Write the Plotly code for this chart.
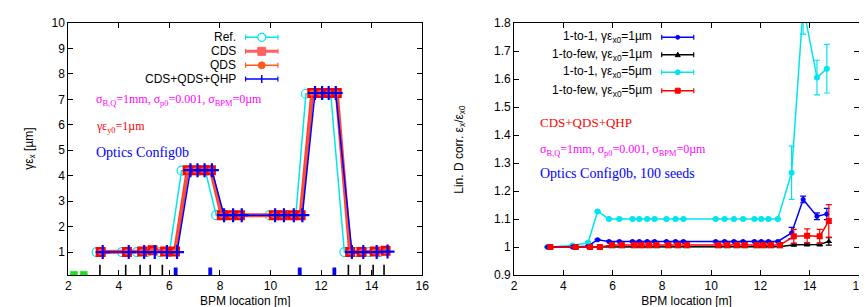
import plotly.graph_objects as go

# ---------------- data: left panel ----------------
ref_x = [3.12, 4.12, 4.71, 5.10, 5.62, 6.00, 6.48, 6.80, 7.12, 7.42, 7.85, 8.20, 8.56,
         9.96, 10.30, 10.65, 11.00, 11.40, 11.72, 12.05, 12.38, 12.92, 13.38, 13.90, 14.32]
ref_y = [1.0, 1.0, 1.0, 1.0, 1.0, 1.0, 4.2, 4.2, 4.2, 4.2, 2.45, 2.45, 2.45,
         2.45, 2.45, 2.45, 2.45, 7.22, 7.22, 7.22, 7.22, 1.0, 1.0, 1.0, 1.0]
cds_x = [3.28, 4.32, 4.92, 5.33, 5.83, 6.22, 6.72, 7.03, 7.35, 7.64, 8.07, 8.43, 8.79,
         10.13, 10.48, 10.87, 11.19, 11.65, 11.97, 12.30, 12.62, 13.15, 13.60, 14.12, 14.55]
cds_y = [1.0, 1.0, 1.02, 1.07, 1.02, 1.02, 4.22, 4.22, 4.22, 4.22, 2.45, 2.45, 2.45,
         2.45, 2.45, 2.45, 2.45, 7.25, 7.25, 7.25, 7.25, 1.0, 1.0, 1.02, 1.05]
qds_y = [1.0, 1.0, 1.01, 1.05, 1.01, 1.01, 4.22, 4.22, 4.22, 4.22, 2.45, 2.45, 2.45,
         2.45, 2.45, 2.45, 2.45, 7.25, 7.25, 7.25, 7.25, 1.0, 1.0, 1.01, 1.03]
comb_x = [3.36, 4.39, 5.00, 5.42, 5.90, 6.30, 6.83, 7.11, 7.39, 7.68, 8.16, 8.52, 8.86,
          10.18, 10.53, 10.92, 11.26, 11.76, 12.04, 12.30, 12.58, 13.22, 13.67, 14.20, 14.63]
comb_y = [1.0, 1.0, 1.0, 1.0, 1.0, 1.0, 4.22, 4.22, 4.22, 4.22, 2.45, 2.45, 2.45,
          2.45, 2.45, 2.45, 2.45, 7.25, 7.25, 7.25, 7.25, 1.0, 1.0, 1.0, 1.02]

# lattice elements drawn at bottom of left panel
quad_pos = [3.25, 4.27, 4.84, 5.24, 5.72, 13.08, 13.54, 14.06, 14.49]
quad_top = 0.5
bend_start = [6.18, 7.55, 11.09, 12.46]
bend_end = [6.31, 7.68, 11.22, 12.59]
bend_top = 0.38
sol_start = [2.08, 2.47]
sol_end = [2.36, 2.75]
sol_top = 0.25
lat_base = 0.1

# ---------------- data: right panel ----------------
x_one = [3.36, 4.37, 5.00, 5.385, 5.85, 6.27, 6.80, 7.08, 7.40, 7.70, 8.18, 8.55, 8.87,
         10.18, 10.54, 10.92, 11.29, 11.75, 12.03, 12.32, 12.70, 13.26, 13.73, 14.29, 14.69]
x_few = [3.47, 4.50, 5.08, 5.48, 5.97, 6.37, 6.88, 7.17, 7.47, 7.78, 8.26, 8.65, 9.01,
         10.29, 10.65, 11.04, 11.36, 11.84, 12.12, 12.42, 12.79, 13.35, 13.89, 14.40, 14.77]
one_1um = [1.0, 1.0, 1.003, 1.026, 1.02, 1.02, 1.02, 1.02, 1.02, 1.02, 1.02, 1.02, 1.02,
           1.02, 1.02, 1.02, 1.02, 1.02, 1.02, 1.02, 1.02, 1.05, 1.17, 1.11, 1.118]
one_1um_err = [0.001] * 21 + [0.02, 0.012, 0.012, 0.02]
few_1um = [1.0, 1.0, 1.0, 1.0, 1.001, 1.001, 1.001, 1.001, 1.001, 1.001, 1.001, 1.001, 1.001,
           1.001, 1.001, 1.001, 1.001, 1.001, 1.001, 1.001, 1.001, 1.008, 1.009, 1.009, 1.02]
few_1um_err = [0.001] * 21 + [0.005, 0.005, 0.005, 0.013]
one_5um = [1.0, 1.005, 1.015, 1.127, 1.10, 1.10, 1.10, 1.10, 1.10, 1.10, 1.10, 1.10, 1.10,
           1.10, 1.10, 1.10, 1.10, 1.10, 1.10, 1.10, 1.10, 1.265, 1.86, 1.605, 1.637]
one_5um_err = [0.002] * 21 + [0.095, 0.1, 0.062, 0.087]
few_5um = [1.0, 1.0, 1.0, 1.0, 1.007, 1.007, 1.007, 1.007, 1.007, 1.007, 1.007, 1.007, 1.007,
           1.007, 1.007, 1.007, 1.007, 1.007, 1.007, 1.007, 1.007, 1.038, 1.04, 1.038, 1.093]
few_5um_err = [0.001] * 21 + [0.025, 0.025, 0.025, 0.058]

x_ticks = [2, 4, 6, 8, 10, 12, 14, 16]
left_y_ticks = [1, 2, 3, 4, 5, 6, 7, 8, 9, 10]
right_y_ticks = [0.9, 1.0, 1.1, 1.2, 1.3, 1.4, 1.5, 1.6, 1.7, 1.8]
right_y_labels = ["0.9", "1", "1.1", "1.2", "1.3", "1.4", "1.5", "1.6", "1.7", "1.8"]

# ---------------- colours ----------------
CYAN = "#00E5EE"
RED = "#FF0000"
CDS_LINE = "#FF4040"
ORANGE = "#FF5A1E"
BLUE = "#0000FF"
MAGENTA = "#FF00FF"

W, H = 867, 307
T, B = 15, 40
PH = H - T - B


def px(x):
    return x / W


def py(y):
    return (H - B - y) / PH


fig = go.Figure()

# lattice markers
lx, ly = [], []
for q in quad_pos:
    lx += [q, q, None]
    ly += [lat_base, quad_top, None]
fig.add_trace(go.Scatter(x=lx, y=ly, mode="lines", line=dict(color="black", width=1.6),
                         showlegend=False, hoverinfo="skip", xaxis="x", yaxis="y"))
bx, by = [], []
for s, e in zip(bend_start, bend_end):
    bx += [s, e, e, s, s, None]
    by += [lat_base, lat_base, bend_top, bend_top, lat_base, None]
fig.add_trace(go.Scatter(x=bx, y=by, mode="lines", fill="toself", fillcolor=BLUE,
                         line=dict(color=BLUE, width=0.5), showlegend=False,
                         hoverinfo="skip", xaxis="x", yaxis="y"))
gx, gy = [], []
for s, e in zip(sol_start, sol_end):
    gx += [s, e, e, s, s, None]
    gy += [lat_base, lat_base, sol_top, sol_top, lat_base, None]
fig.add_trace(go.Scatter(x=gx, y=gy, mode="lines", fill="toself", fillcolor="#22DD22",
                         line=dict(color="#22DD22", width=0.5), showlegend=False,
                         hoverinfo="skip", xaxis="x", yaxis="y"))

# left panel series
fig.add_trace(go.Scatter(x=ref_x, y=ref_y, mode="lines+markers",
                         line=dict(color=CYAN, width=1.5),
                         marker=dict(symbol="circle-open", size=9, color=CYAN, line=dict(width=1.2)),
                         showlegend=False, xaxis="x", yaxis="y"))
fig.add_trace(go.Scatter(x=cds_x, y=cds_y, mode="lines+markers",
                         line=dict(color=CDS_LINE, width=4),
                         marker=dict(symbol="square", size=10, color=RED),
                         showlegend=False, xaxis="x", yaxis="y"))
fig.add_trace(go.Scatter(x=cds_x, y=qds_y, mode="lines+markers",
                         line=dict(color=ORANGE, width=1.2),
                         marker=dict(symbol="circle", size=6, color=ORANGE),
                         showlegend=False, xaxis="x", yaxis="y"))
fig.add_trace(go.Scatter(x=comb_x, y=comb_y, mode="lines+markers",
                         line=dict(color=BLUE, width=1.5),
                         marker=dict(symbol="cross-thin-open", size=10, color=BLUE,
                                     line=dict(width=2.2, color=BLUE)),
                         showlegend=False, xaxis="x", yaxis="y"))

# right panel series
def err_series(x, y, e, color, symbol, size):
    return go.Scatter(x=x, y=y, mode="lines+markers",
                      line=dict(color=color, width=1.5),
                      marker=dict(symbol=symbol, size=size, color=color),
                      error_y=dict(type="data", array=e, visible=True, color=color,
                                   thickness=1.2, width=3),
                      showlegend=False, xaxis="x2", yaxis="y2")


fig.add_trace(err_series(x_one, one_5um, one_5um_err, CYAN, "circle", 6))
fig.add_trace(err_series(x_few, few_1um, few_1um_err, "black", "triangle-up", 6))
fig.add_trace(err_series(x_one, one_1um, one_1um_err, BLUE, "circle", 5))
fig.add_trace(err_series(x_few, few_5um, few_5um_err, RED, "square", 6))

shapes = []
annotations = []
SANS = "Liberation Sans, Arial, sans-serif"
SERIF = "Liberation Serif, Times New Roman, serif"


def legend_row(text, text_right, y, x0, x1, color, lw, marker, msize):
    annotations.append(dict(x=px(text_right), y=py(y), xref="paper", yref="paper",
                            text=text, showarrow=False, xanchor="right", yanchor="middle",
                            font=dict(family=SANS, size=12, color="black")))
    shapes.append(dict(type="line", xref="paper", yref="paper", x0=px(x0), x1=px(x1),
                       y0=py(y), y1=py(y), line=dict(color=color, width=lw)))
    for xc in (x0, x1):
        shapes.append(dict(type="line", xref="paper", yref="paper", x0=px(xc), x1=px(xc),
                           y0=py(y - 2.5), y1=py(y + 2.5), line=dict(color=color, width=1.2)))
    xm = (x0 + x1) / 2
    r = msize / 2
    if marker == "circle-open":
        shapes.append(dict(type="circle", xref="paper", yref="paper", x0=px(xm - r), x1=px(xm + r),
                           y0=py(y - r), y1=py(y + r), line=dict(color=color, width=1.3),
                           fillcolor="white"))
    elif marker == "circle":
        shapes.append(dict(type="circle", xref="paper", yref="paper", x0=px(xm - r), x1=px(xm + r),
                           y0=py(y - r), y1=py(y + r), line=dict(color=color, width=1),
                           fillcolor=color))
    elif marker == "square":
        shapes.append(dict(type="rect", xref="paper", yref="paper", x0=px(xm - r), x1=px(xm + r),
                           y0=py(y - r), y1=py(y + r), line=dict(color=color, width=1),
                           fillcolor=color))
    elif marker == "cross":
        shapes.append(dict(type="line", xref="paper", yref="paper", x0=px(xm), x1=px(xm),
                           y0=py(y - r), y1=py(y + r), line=dict(color=color, width=1.5)))
    elif marker == "triangle":
        path = "M {} {} L {} {} L {} {} Z".format(px(xm - r), py(y + r * 0.8), px(xm + r),
                                                  py(y + r * 0.8), px(xm), py(y - r))
        shapes.append(dict(type="path", xref="paper", yref="paper", path=path,
                           fillcolor=color, line=dict(color=color, width=1)))


# left legend
legend_row("Ref.", 229.5, 29.3, 237.3, 270, CYAN, 1.5, "circle-open", 8)
legend_row("CDS", 229.5, 43.3, 237.3, 270, "#FF6060", 3, "square", 8)
legend_row("QDS", 229.5, 57.3, 237.3, 270, ORANGE, 1.5, "circle", 7)
legend_row("CDS+QDS+QHP", 229.5, 71.0, 237.3, 270, BLUE, 1.5, "cross", 8)

# right legend
legend_row("1-to-1, γε<sub>x0</sub>=1µm", 651, 29.3, 658.3, 690.7, BLUE, 1.5, "circle", 4)
legend_row("1-to-few, γε<sub>x0</sub>=1µm", 651, 46.7, 658.3, 690.7, "black", 1.5, "triangle", 5)
legend_row("1-to-1, γε<sub>x0</sub>=5µm", 651, 64.3, 658.3, 690.7, CYAN, 1.5, "circle", 5)
legend_row("1-to-few, γε<sub>x0</sub>=5µm", 651, 82.7, 658.3, 690.7, RED, 1.5, "square", 5)


def text(x, y, s, color, size):
    annotations.append(dict(x=px(x), y=py(y), xref="paper", yref="paper", text=s,
                            showarrow=False, xanchor="left", yanchor="middle",
                            font=dict(family=SERIF, size=size, color=color)))


sigma_txt = "σ<sub>B,Q</sub>=1mm, σ<sub>p0</sub>=0.001, σ<sub>BPM</sub>=0µm"
text(84, 92, sigma_txt, MAGENTA, 12)
text(84, 118.5, "γε<sub>y0</sub>=1µm", RED, 12)
text(84, 144, "Optics Config0b", BLUE, 14)
text(533, 114.3, "CDS+QDS+QHP", RED, 13)
text(533, 142.3, sigma_txt, MAGENTA, 12)
text(533, 165, "Optics Config0b, 100 seeds", BLUE, 14)

# axis titles (y) as rotated text
annotations.append(dict(x=px(19), y=0.5, xref="paper", yref="paper",
                        text="γε<sub>x</sub> [µm]", textangle=-90, showarrow=False,
                        xanchor="center", yanchor="middle",
                        font=dict(family=SANS, size=12, color="black")))
annotations.append(dict(x=px(454), y=0.5, xref="paper", yref="paper",
                        text="Lin. D corr. ε<sub>x</sub>/ε<sub>x0</sub>", textangle=-90,
                        showarrow=False, xanchor="center", yanchor="middle",
                        font=dict(family=SANS, size=12, color="black")))

axis_common = dict(showline=True, linecolor="black", linewidth=1, mirror="ticks",
                   ticks="inside", ticklen=5, tickcolor="black", showgrid=False,
                   zeroline=False, tickfont=dict(family=SANS, size=12, color="black"))

fig.update_layout(
    width=W, height=H,
    margin=dict(l=0, r=0, t=T, b=B),
    paper_bgcolor="white", plot_bgcolor="white",
    showlegend=False,
    xaxis=dict(domain=[58 / W, 416 / W], range=[2, 16], tickvals=x_ticks,
               title=dict(text="BPM location [m]", standoff=4,
                          font=dict(family=SANS, size=12, color="black")),
               anchor="y", **axis_common),
    yaxis=dict(domain=[0, 1], range=[0.1, 10], tickvals=left_y_ticks, anchor="x",
               **axis_common),
    xaxis2=dict(domain=[509 / W, 858 / W], range=[2, 16], tickvals=x_ticks,
                title=dict(text="BPM location [m]", standoff=4,
                           font=dict(family=SANS, size=12, color="black")),
                anchor="y2", **axis_common),
    yaxis2=dict(domain=[0, 1], range=[0.9, 1.8], tickvals=right_y_ticks,
                ticktext=right_y_labels, anchor="x2", **axis_common),
    shapes=shapes,
    annotations=annotations,
)

fig.write_html("out.html")
